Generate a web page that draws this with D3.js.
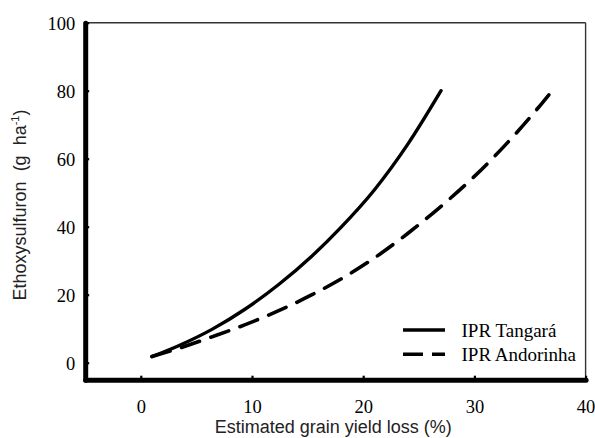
<!DOCTYPE html>
<html>
<head>
<meta charset="utf-8">
<script src="https://cdn.jsdelivr.net/npm/d3@7"></script>
<style>
  html, body { margin: 0; padding: 0; background: #fff; }
  svg { display: block; }
  text { white-space: pre; }
  .serif { font-family: "Liberation Serif", "Times New Roman", Times, "DejaVu Serif", serif; }
  .sans { font-family: "Liberation Sans", Arial, Helvetica, sans-serif; }
</style>
</head>
<body>
<svg id="chart" width="595" height="438"></svg>
<script>
// ---- data ----
const tangaraX = [1, 3.4, 6.4, 9.4, 12.4, 15.4, 18, 21, 24, 27];
const tangaraY = [1.8, 5.0, 9.8, 15.8, 23.0, 31.4, 39.8, 50.8, 64.2, 80];
const andorinhaX = [1, 3.4, 6.4, 9.4, 12.4, 15.4, 18, 21, 24, 27, 30, 33, 36, 37];
const andorinhaY = [1.8, 4.2, 7.6, 11.2, 15.3, 20.0, 24.6, 30.8, 38.0, 46.0, 54.8, 64.8, 76.0, 80];
const xTicks = [0, 10, 20, 30, 40];
const yTicks = [0, 20, 40, 60, 80, 100];
const seriesNames = ["IPR Tangará", "IPR Andorinha"];
const xTitle = "Estimated grain yield loss (%)";
const yTitleMain = "Ethoxysulfuron  (g  ha";
const yTitleSup = "-1";
const yTitleEnd = ")";

// ---- layout ----
const svg = d3.select("#chart");
const x = d3.scaleLinear().domain([-5, 40]).range([85.2, 585.6]);
const y = d3.scaleLinear().domain([-5, 100]).range([379.7, 22.7]);

// thin top and right frame lines
svg.append("line")
  .attr("x1", x(-5)).attr("x2", x(40)).attr("y1", y(100)).attr("y2", y(100))
  .attr("stroke", "#333").attr("stroke-width", 1.4);
svg.append("line")
  .attr("x1", x(40)).attr("x2", x(40)).attr("y1", y(100)).attr("y2", y(-5))
  .attr("stroke", "#333").attr("stroke-width", 1.4);

// bottom axis
const gx = svg.append("g").attr("transform", `translate(0,${y(-5)})`)
  .call(d3.axisBottom(x).tickValues(xTicks).tickSizeInner(-4).tickSizeOuter(0).tickPadding(20));
gx.attr("font-family", null).attr("font-size", null);
gx.select(".domain").attr("stroke", "#000").attr("stroke-width", 5).attr("stroke-linecap", "round");
gx.selectAll(".tick line").attr("stroke", "#000").attr("stroke-width", 2.2);
gx.selectAll(".tick text").attr("class", "serif").style("font-size", "18.5px").attr("fill", "#000");

// left axis
const gy = svg.append("g").attr("transform", `translate(${x(-5)},0)`)
  .call(d3.axisLeft(y).tickValues(yTicks).tickSizeInner(-4).tickSizeOuter(0).tickPadding(10));
gy.attr("font-family", null).attr("font-size", null);
gy.select(".domain").attr("stroke", "#000").attr("stroke-width", 5).attr("stroke-linecap", "round");
gy.selectAll(".tick line").attr("stroke", "#000").attr("stroke-width", 2.2);
gy.selectAll(".tick text").attr("class", "serif").style("font-size", "18.5px").attr("fill", "#000")
  .attr("dy", "0.36em");

// curves
const line = d3.line().x(d => x(d[0])).y(d => y(d[1])).curve(d3.curveMonotoneX);
const tangara = tangaraX.map((v, i) => [v, tangaraY[i]]);
const andorinha = andorinhaX.map((v, i) => [v, andorinhaY[i]]);

svg.append("path").datum(andorinha).attr("d", line)
  .attr("fill", "none").attr("stroke", "#000").attr("stroke-width", 3.6)
  .attr("stroke-linecap", "round").attr("stroke-dasharray", "19,12");
svg.append("path").datum(tangara).attr("d", line)
  .attr("fill", "none").attr("stroke", "#000").attr("stroke-width", 3.4)
  .attr("stroke-linecap", "round");

// legend
const legend = svg.append("g");
const legY = [330, 354.3];
seriesNames.forEach((name, i) => {
  legend.append("line")
    .attr("x1", 403).attr("x2", 445).attr("y1", legY[i]).attr("y2", legY[i])
    .attr("stroke", "#000").attr("stroke-width", 3.4)
    .attr("stroke-dasharray", i === 1 ? "20,9" : null);
  legend.append("text")
    .attr("class", "serif")
    .attr("x", 461.5).attr("y", legY[i] + 6.5)
    .style("font-size", "19px").attr("fill", "#000")
    .text(name);
});

// axis titles
svg.append("text")
  .attr("class", "sans")
  .attr("x", 333.3).attr("y", 433).attr("text-anchor", "middle")
  .style("font-size", "18px").attr("fill", "#222")
  .text(xTitle);

const yt = svg.append("text")
  .attr("class", "sans")
  .attr("transform", "translate(25.5,205) rotate(-90)")
  .attr("text-anchor", "middle")
  .style("font-size", "18px").attr("fill", "#222");
yt.append("tspan").text(yTitleMain);
yt.append("tspan").style("font-size", "11px").attr("dy", -7).text(yTitleSup);
yt.append("tspan").attr("dy", 7).text(yTitleEnd);
</script>
</body>
</html>
